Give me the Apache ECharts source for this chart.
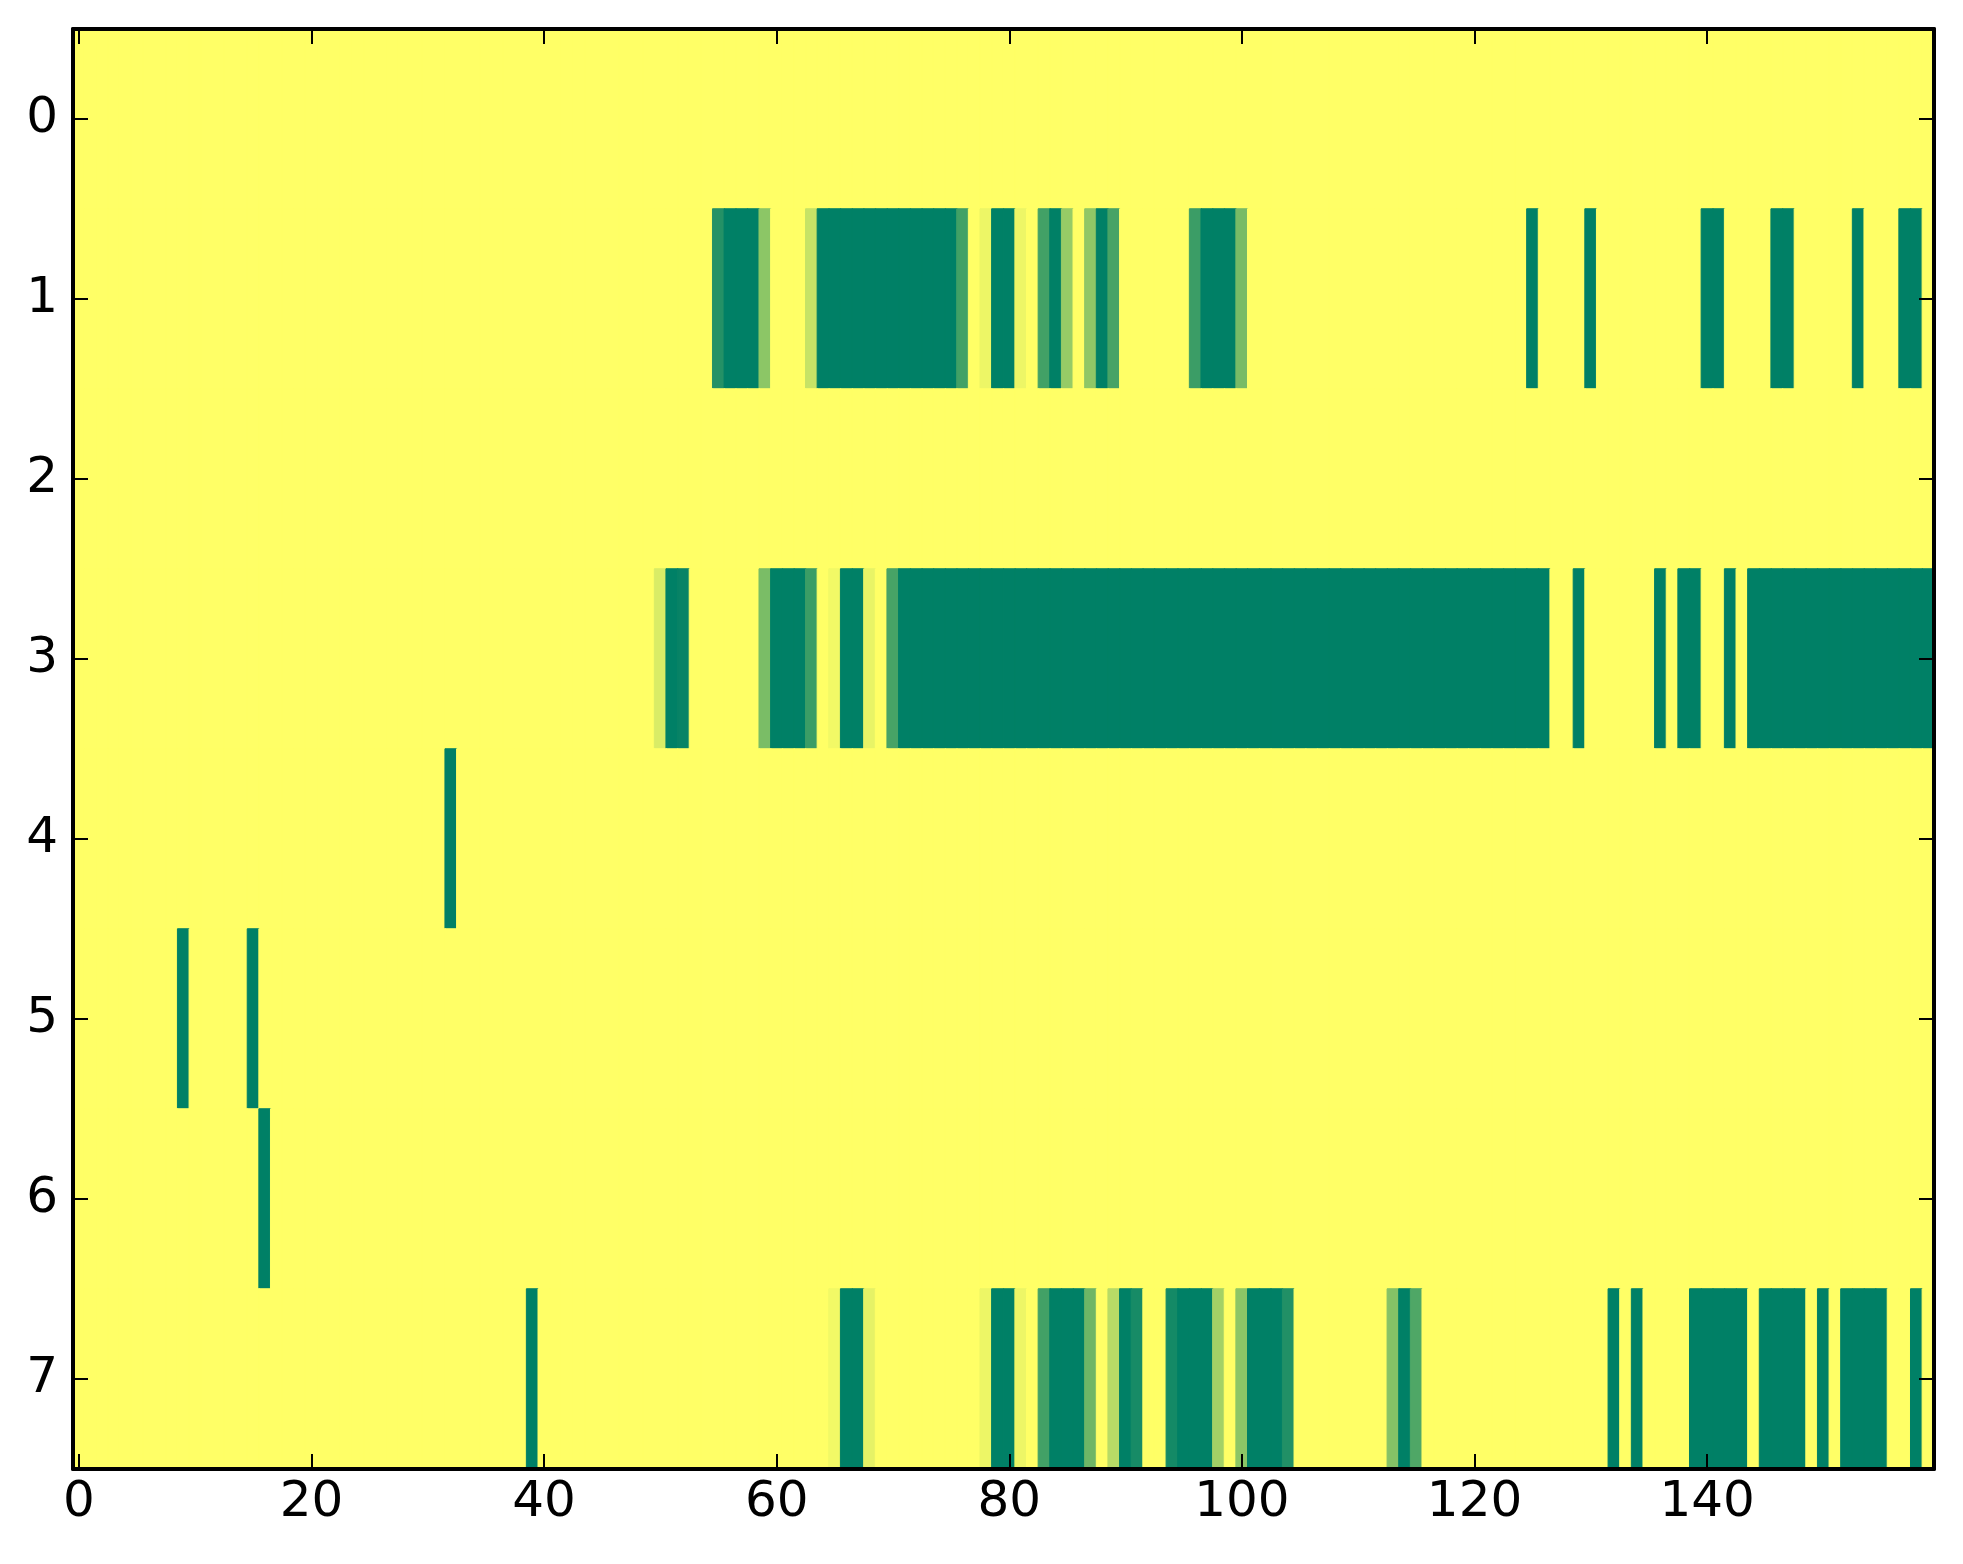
<!DOCTYPE html>
<html>
<head>
<meta charset="utf-8">
<script src="https://cdn.jsdelivr.net/npm/echarts@6/dist/echarts.min.js"></script>
<style>
  html, body { margin: 0; padding: 0; background: #ffffff; }
  #chart { width: 1963px; height: 1564px; }
</style>
</head>
<body>
<div id="chart"></div>
<script>
// Row labels (y categories) and column indices (x categories)
const yCategories = ['0', '1', '2', '3', '4', '5', '6', '7'];
const xCategories = [];
for (let i = 0; i < 160; i++) xCategories.push(String(i));
const xTickStep = 20;

// Cell values per row (0 = yellow, 1 = green), 160 columns each
const row0 = [
  0,0,0,0,0,0,0,0,0,0,0,0,0,0,0,0,0,0,0,0,
  0,0,0,0,0,0,0,0,0,0,0,0,0,0,0,0,0,0,0,0,
  0,0,0,0,0,0,0,0,0,0,0,0,0,0,0,0,0,0,0,0,
  0,0,0,0,0,0,0,0,0,0,0,0,0,0,0,0,0,0,0,0,
  0,0,0,0,0,0,0,0,0,0,0,0,0,0,0,0,0,0,0,0,
  0,0,0,0,0,0,0,0,0,0,0,0,0,0,0,0,0,0,0,0,
  0,0,0,0,0,0,0,0,0,0,0,0,0,0,0,0,0,0,0,0,
  0,0,0,0,0,0,0,0,0,0,0,0,0,0,0,0,0,0,0,0
];
const row1 = [
  0,0,0,0,0,0,0,0,0,0,0,0,0,0,0,0,0,0,0,0,
  0,0,0,0,0,0,0,0,0,0,0,0,0,0,0,0,0,0,0,0,
  0,0,0,0,0,0,0,0,0,0,0,0,0,0,0,0.86,1,1,1,0.45,
  0,0,0,0.22,1,1,1,1,1,1,1,1,1,1,1,1,0.74,0,0.07,1,
  1,0.07,0,0.74,1,0.41,0,0.44,1,0.72,0,0,0,0,0,0,0.77,1,1,1,
  0.53,0,0,0,0,0,0,0,0,0,0,0,0,0,0,0,0,0,0,0,
  0,0,0,0,0,1,0,0,0,0,1,0,0,0,0,0,0,0,0,0,
  1,1,0,0,0,0,1,1,0,0,0,0,0,1,0,0,0,1,1,0
];
const row2 = [
  0,0,0,0,0,0,0,0,0,0,0,0,0,0,0,0,0,0,0,0,
  0,0,0,0,0,0,0,0,0,0,0,0,0,0,0,0,0,0,0,0,
  0,0,0,0,0,0,0,0,0,0,0,0,0,0,0,0,0,0,0,0,
  0,0,0,0,0,0,0,0,0,0,0,0,0,0,0,0,0,0,0,0,
  0,0,0,0,0,0,0,0,0,0,0,0,0,0,0,0,0,0,0,0,
  0,0,0,0,0,0,0,0,0,0,0,0,0,0,0,0,0,0,0,0,
  0,0,0,0,0,0,0,0,0,0,0,0,0,0,0,0,0,0,0,0,
  0,0,0,0,0,0,0,0,0,0,0,0,0,0,0,0,0,0,0,0
];
const row3 = [
  0,0,0,0,0,0,0,0,0,0,0,0,0,0,0,0,0,0,0,0,
  0,0,0,0,0,0,0,0,0,0,0,0,0,0,0,0,0,0,0,0,
  0,0,0,0,0,0,0,0,0,0,0.15,1,0.97,0,0,0,0,0,0,0.52,
  1,1,1,0.77,0,0.05,1,1,0.09,0,0.72,1,1,1,1,1,1,1,1,1,
  1,1,1,1,1,1,1,1,1,1,1,1,1,1,1,1,1,1,1,1,
  1,1,1,1,1,1,1,1,1,1,1,1,1,1,1,1,1,1,1,1,
  1,1,1,1,1,1,1,0,0,1,0,0,0,0,0,0,1,0,1,1,
  0,0,1,0,1,1,1,1,1,1,1,1,1,1,1,1,1,1,1,1
];
const row4 = [
  0,0,0,0,0,0,0,0,0,0,0,0,0,0,0,0,0,0,0,0,
  0,0,0,0,0,0,0,0,0,0,0,0,1,0,0,0,0,0,0,0,
  0,0,0,0,0,0,0,0,0,0,0,0,0,0,0,0,0,0,0,0,
  0,0,0,0,0,0,0,0,0,0,0,0,0,0,0,0,0,0,0,0,
  0,0,0,0,0,0,0,0,0,0,0,0,0,0,0,0,0,0,0,0,
  0,0,0,0,0,0,0,0,0,0,0,0,0,0,0,0,0,0,0,0,
  0,0,0,0,0,0,0,0,0,0,0,0,0,0,0,0,0,0,0,0,
  0,0,0,0,0,0,0,0,0,0,0,0,0,0,0,0,0,0,0,0
];
const row5 = [
  0,0,0,0,0,0,0,0,0,1,0,0,0,0,0,1,0,0,0,0,
  0,0,0,0,0,0,0,0,0,0,0,0,0,0,0,0,0,0,0,0,
  0,0,0,0,0,0,0,0,0,0,0,0,0,0,0,0,0,0,0,0,
  0,0,0,0,0,0,0,0,0,0,0,0,0,0,0,0,0,0,0,0,
  0,0,0,0,0,0,0,0,0,0,0,0,0,0,0,0,0,0,0,0,
  0,0,0,0,0,0,0,0,0,0,0,0,0,0,0,0,0,0,0,0,
  0,0,0,0,0,0,0,0,0,0,0,0,0,0,0,0,0,0,0,0,
  0,0,0,0,0,0,0,0,0,0,0,0,0,0,0,0,0,0,0,0
];
const row6 = [
  0,0,0,0,0,0,0,0,0,0,0,0,0,0,0,0,1,0,0,0,
  0,0,0,0,0,0,0,0,0,0,0,0,0,0,0,0,0,0,0,0,
  0,0,0,0,0,0,0,0,0,0,0,0,0,0,0,0,0,0,0,0,
  0,0,0,0,0,0,0,0,0,0,0,0,0,0,0,0,0,0,0,0,
  0,0,0,0,0,0,0,0,0,0,0,0,0,0,0,0,0,0,0,0,
  0,0,0,0,0,0,0,0,0,0,0,0,0,0,0,0,0,0,0,0,
  0,0,0,0,0,0,0,0,0,0,0,0,0,0,0,0,0,0,0,0,
  0,0,0,0,0,0,0,0,0,0,0,0,0,0,0,0,0,0,0,0
];
const row7 = [
  0,0,0,0,0,0,0,0,0,0,0,0,0,0,0,0,0,0,0,0,
  0,0,0,0,0,0,0,0,0,0,0,0,0,0,0,0,0,0,0,1,
  0,0,0,0,0,0,0,0,0,0,0,0,0,0,0,0,0,0,0,0,
  0,0,0,0,0,0.05,1,1,0.1,0,0,0,0,0,0,0,0,0,0.07,1,
  1,0.07,0,0.74,1,1,1,0.57,0,0.28,1,0.91,0,0,0.92,1,1,1,0.36,0,
  0.45,1,1,1,0.87,0,0,0,0,0,0,0,0,0.48,1,0.69,0,0,0,0,
  0,0,0,0,0,0,0,0,0,0,0,0,1,0,1,0,0,0,0,1,
  1,1,1,1,0,1,1,1,1,0,1,0,1,1,1,1,0,0,1,0
];

const rows = [row0, row1, row2, row3, row4, row5, row6, row7];

// reversed "summer" colormap: 0 -> yellow, 1 -> green
function summerR(v) {
  const t = 1 - v;
  const r = Math.round(255 * t);
  const g = Math.round(255 * (0.5 + t / 2));
  const b = Math.round(255 * 0.4);
  return 'rgb(' + r + ',' + g + ',' + b + ')';
}

const cells = [];
rows.forEach(function (r, yi) {
  r.forEach(function (v, xi) {
    const c = summerR(v);
    cells.push({ value: [xi, yi, v], itemStyle: { color: c, borderColor: c, borderWidth: 1 } });
  });
});

const chart = echarts.init(document.getElementById('chart'), null, { renderer: 'canvas' });
const font = 'DejaVu Sans';
const showEvery = function (idx) { return idx % xTickStep === 0; };
const frame = { show: true, lineStyle: { color: '#000', width: 4 } };
const tick = { show: true, inside: true, length: 15, lineStyle: { color: '#000', width: 2 } };

chart.setOption({
  animation: false,
  backgroundColor: '#ffffff',
  grid: { left: 73, top: 29, width: 1861, height: 1440, containLabel: false },
  xAxis: [
    {
      type: 'category', data: xCategories, position: 'bottom', z: 10,
      axisLine: frame,
      axisTick: Object.assign({ alignWithLabel: true, interval: showEvery }, tick),
      axisLabel: { interval: showEvery, margin: 9, color: '#000', fontSize: 50, fontFamily: font },
      splitLine: { show: false }
    },
    {
      type: 'category', data: xCategories, position: 'top', z: 10,
      axisLine: frame,
      axisTick: Object.assign({ alignWithLabel: true, interval: showEvery }, tick),
      axisLabel: { show: false },
      splitLine: { show: false }
    }
  ],
  yAxis: [
    {
      type: 'category', data: yCategories, inverse: true, position: 'left', z: 10,
      axisLine: frame,
      axisTick: Object.assign({ alignWithLabel: true }, tick),
      axisLabel: { margin: 15, color: '#000', fontSize: 50, fontFamily: font },
      splitLine: { show: false }
    },
    {
      type: 'category', data: yCategories, inverse: true, position: 'right', z: 10,
      axisLine: frame,
      axisTick: Object.assign({ alignWithLabel: true }, tick),
      axisLabel: { show: false },
      splitLine: { show: false }
    }
  ],
  series: [{
    type: 'heatmap', xAxisIndex: 0, yAxisIndex: 0,
    data: cells,
    emphasis: { disabled: true }
  }]
});
</script>
</body>
</html>
